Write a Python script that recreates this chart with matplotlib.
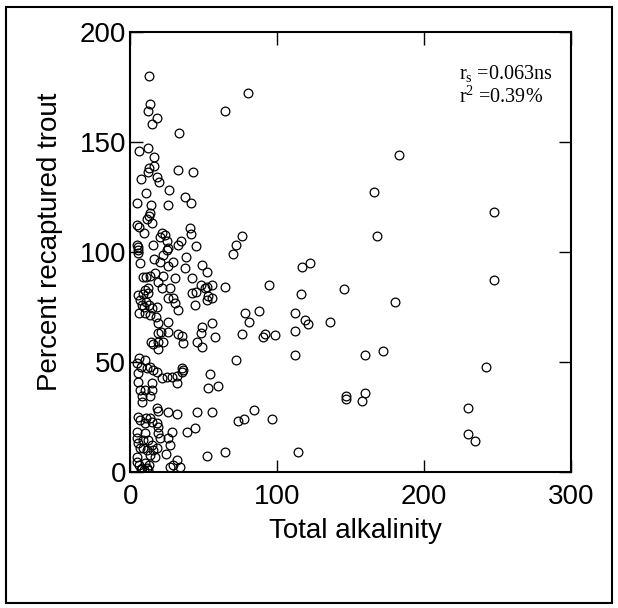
import matplotlib

matplotlib.use("Agg")
import matplotlib.pyplot as plt
from matplotlib.patches import Rectangle

plt.rcParams.update({
    "font.family": ["Liberation Sans", "DejaVu Sans"],
    "mathtext.fontset": "custom",
    "mathtext.rm": "Liberation Serif",
    "mathtext.it": "Liberation Serif:italic",
})

# total alkalinity (x) and percent recaptured trout (y)
# sparse points, mostly at higher alkalinity
alk_sparse = [
    80.3, 64.2, 183.2, 166.0, 247.6, 76.0, 167.9, 72.0, 70.1, 122.2,
    116.8, 247.6, 94.3, 64.2, 145.8, 116.0, 180.0, 87.8, 78.2, 112.0,
    119.0, 81.1, 121.0, 136.2, 112.3, 76.0, 91.6, 98.3, 90.5, 171.9,
    112.0, 160.1, 72.0, 242.0, 160.1, 146.9, 146.9, 157.9, 229.9, 84.3,
    77.4, 73.1, 96.2, 229.9, 235.0, 64.2, 114.4, 52.4,
]
pct_sparse = [
    172.2, 163.9, 144.0, 127.0, 118.1, 107.0, 107.0, 102.9, 98.9, 94.8,
    93.0, 87.0, 84.9, 84.1, 83.0, 80.9, 77.0, 73.0, 72.1, 72.1,
    69.1, 68.0, 67.0, 68.0, 64.0, 62.9, 62.9, 62.0, 61.1, 55.0,
    53.0, 53.0, 50.9, 47.9, 35.9, 34.5, 33.0, 32.1, 29.1, 28.2,
    24.0, 23.1, 24.0, 17.1, 14.1, 9.2, 9.2, 7.2,
]
# dense cluster at low alkalinity
alk_dense = [
    12.4, 13.3, 12.1, 18.3, 14.4, 33.1, 6.2, 12.2, 16.2, 12.6,
    16.2, 12.1, 32.2, 42.8,
    7.2, 18.3, 19.6, 10.4, 26.2, 37.1, 41.2, 4.2, 14.0, 25.3,
    13.3, 12.6, 11.0, 14.4, 4.2, 5.8, 9.2, 21.7, 23.5, 20.1,
    24.7, 40.6, 41.0, 4.2, 5.3, 15.5, 32.2, 34.4, 44.6, 25.8,
    4.9, 5.3, 6.5, 24.7, 16.2, 20.1, 22.4, 25.8, 29.2, 37.6,
    37.1, 48.5, 51.9, 8.7, 10.4, 13.3, 16.7, 22.4, 30.3, 41.7,
    18.9, 9.9, 12.1, 11.7, 21.3, 26.9, 48.0, 51.9, 55.3, 50.8,
    4.9, 8.7, 6.5, 7.6, 10.4, 9.4, 12.6, 14.4, 17.9, 5.8,
    9.9, 13.3, 17.2, 25.8, 29.2, 30.3, 32.2, 41.7, 44.4, 44.0,
    51.9, 53.0, 55.7, 18.5, 25.8,
    18.9, 20.8, 25.8, 32.6, 34.9, 36.0, 48.5, 48.0, 45.1, 49.0,
    57.6, 55.3, 14.0, 15.5, 18.5, 18.5, 22.4, 4.2, 5.8, 7.2,
    9.9, 11.0, 13.3, 15.5, 17.9, 21.3, 24.7, 28.1, 31.5, 31.5,
    34.9, 36.0, 35.5, 5.3, 4.9, 6.5, 9.9, 14.9, 14.4, 7.6,
    13.3, 54.2, 53.0, 59.8,
    7.6, 17.9, 18.5, 25.3, 31.5, 45.1, 55.7, 5.3, 6.5, 10.4,
    9.9, 13.3, 14.4, 17.9, 18.9, 4.2, 4.2, 5.3, 8.7, 9.9,
    12.1, 18.9, 20.1, 25.8, 28.1, 26.9, 38.3, 44.0, 6.5, 8.7,
    11.0, 14.4, 15.5, 13.3, 17.9, 16.7, 24.0, 4.2, 4.2, 6.0,
    8.0, 9.0, 11.0, 10.0, 12.0, 7.0, 13.0, 26.9, 29.2, 31.5,
    33.7,
]
pct_dense = [
    179.9, 167.1, 164.2, 161.0, 158.1, 153.9, 146.0, 147.0, 143.0, 138.2,
    139.2, 136.1, 137.2, 136.1,
    133.1, 133.9, 131.9, 126.9, 128.1, 125.1, 122.1, 122.1, 121.3, 121.3,
    117.5, 116.3, 114.8, 113.2, 112.2, 111.2, 108.4, 108.4, 107.7, 106.9,
    105.1, 110.7, 108.1, 103.1, 102.1, 103.1, 103.1, 105.1, 102.7, 101.6,
    100.8, 99.3, 94.8, 100.8, 96.8, 95.5, 98.6, 93.7, 95.5, 97.8,
    92.8, 94.0, 91.0, 88.7, 88.7, 89.2, 90.2, 89.2, 88.0, 88.0,
    86.4, 82.7, 83.4, 81.2, 83.4, 83.4, 84.9, 84.2, 84.9, 83.4,
    80.4, 80.7, 78.1, 75.8, 77.3, 75.1, 75.8, 74.3, 75.1, 72.1,
    72.1, 71.3, 70.5, 78.9, 78.9, 76.6, 73.6, 81.2, 81.9, 75.8,
    78.1, 80.1, 78.9, 67.5, 68.0,
    63.0, 63.7, 63.7, 62.7, 61.8, 58.4, 66.0, 63.0, 59.2, 56.6,
    61.4, 67.8, 59.2, 58.1, 59.2, 55.7, 58.9, 49.6, 51.6, 47.8,
    50.9, 47.1, 47.8, 46.3, 45.5, 42.5, 43.3, 43.3, 43.6, 40.3,
    45.5, 46.3, 47.3, 44.8, 41.0, 37.2, 37.2, 40.3, 37.2, 34.5,
    34.5, 44.5, 38.0, 39.0,
    31.9, 28.9, 27.7, 27.4, 26.2, 27.4, 27.4, 25.1, 23.6, 24.4,
    22.1, 24.4, 22.8, 22.1, 20.5, 18.3, 15.3, 13.0, 14.5, 17.5,
    14.5, 17.5, 15.3, 15.5, 18.3, 12.2, 18.3, 19.8, 10.7, 10.7,
    10.0, 12.2, 10.0, 7.7, 10.7, 6.9, 8.0, 6.9, 4.6, 3.0,
    2.0, 1.0, 2.0, 4.0, 1.0, 1.2, 3.0, 2.4, 3.1, 5.4,
    2.4,
]

fig = plt.figure(figsize=(6.18, 6.08), dpi=100)
fig.patches.append(Rectangle((0.01, 0.008), 0.98, 0.981, transform=fig.transFigure,
                             fill=False, edgecolor="black", linewidth=1.5))
ax = fig.add_axes([0.211, 0.2238, 0.7124, 0.7239])
for xs, ys in [(alk_sparse, pct_sparse), (alk_dense, pct_dense)]:
    ax.plot(xs, ys, linestyle="none", marker="o", markersize=6.3,
            markerfacecolor="none", markeredgecolor="black", markeredgewidth=0.9)

ax.set_xlim(0, 300)
ax.set_ylim(0, 200)
ax.set_xticks([0, 100, 200, 300])
ax.set_yticks([0, 50, 100, 150, 200])
ax.tick_params(direction="in", length=9, width=1, top=True, right=True,
               labelsize=20, pad=3)
ax.tick_params(axis="x", pad=9)
for s in ax.spines.values():
    s.set_linewidth(1.5)

ax.set_xlabel("Total alkalinity", fontsize=20)
ax.xaxis.label.set_verticalalignment("center")
ax.xaxis.set_label_coords(0.512, -0.134)
ax.set_ylabel("Percent recaptured trout", fontsize=20)
ax.yaxis.label.set_verticalalignment("center")
ax.yaxis.set_label_coords(-0.183, 0.522)

ax.text(224, 178.7, r"r$_{\mathrm{s}}$ =0.063ns", fontsize=14.5,
        family="Liberation Serif", va="baseline")
ax.text(224, 167.8, r"r$^{2}$ =0.39%", fontsize=14.5,
        family="Liberation Serif", va="baseline")

fig.savefig("out.png", dpi=100)
